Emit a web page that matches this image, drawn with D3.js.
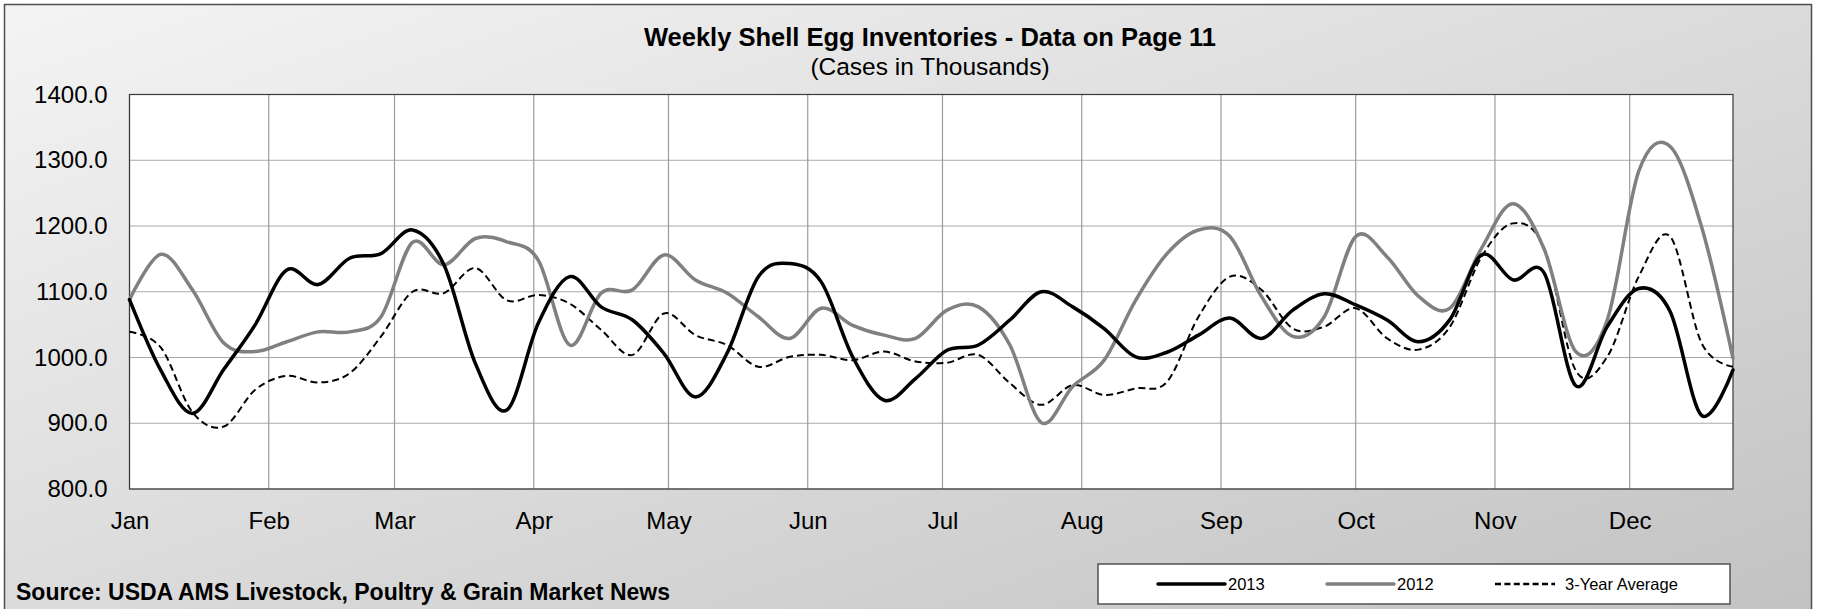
<!DOCTYPE html>
<html>
<head>
<meta charset="utf-8">
<script src="https://cdn.jsdelivr.net/npm/d3@7/dist/d3.min.js"></script>
<style>
  body { margin: 0; background: #fff; }
  svg { display: block; font-family: "Liberation Sans", Arial, sans-serif; }
</style>
</head>
<body>
<div id="chart"></div>
<script>
// ---- data (cases in thousands, one value per week) ----
const weekStart = new Date(2013, 0, 1);
const weeks = d3.range(52).map(i => d3.timeDay.offset(weekStart, i * 7));

const yTicks = [800, 900, 1000, 1100, 1200, 1300, 1400];

const seriesNames = ["2013", "2012", "3-Year Average"];

const inv2013 = [
	1088, 980, 915, 982, 1050, 1133, 1111, 1151, 1158, 1194, 1141, 991, 920,
	1052, 1123, 1077, 1057, 1006, 940, 1006, 1123, 1143, 1115, 1001, 935, 968,
	1011, 1019, 1057, 1100, 1077, 1044, 1001, 1008, 1034, 1060, 1029, 1072, 1097,
	1080, 1057, 1024, 1058, 1156, 1118, 1128, 957, 1047, 1105, 1070, 912, 981
];

const inv2012 = [
	1088, 1157, 1103, 1022, 1009, 1024, 1039, 1039, 1062, 1175, 1141, 1181, 1176,
	1148, 1019, 1098, 1103, 1156, 1118, 1098, 1062, 1029, 1075, 1049, 1034, 1029,
	1072, 1077, 1019, 901, 956, 996, 1087, 1158, 1194, 1184, 1093, 1032, 1062,
	1184, 1153, 1093, 1075, 1166, 1234, 1164, 1009, 1057, 1283, 1321, 1199, 999
];

const invAvg3 = [
	1039, 1015, 917, 895, 951, 972, 962, 976, 1032, 1100, 1098, 1136, 1087,
	1095, 1082, 1042, 1004, 1067, 1034, 1019, 986, 1001, 1004, 996, 1009, 994,
	992, 1004, 961, 928, 958, 943, 953, 963, 1062, 1123, 1103, 1044, 1047,
	1075, 1029, 1012, 1047, 1153, 1204, 1166, 980, 1001, 1123, 1184, 1022, 986
];

// ---- look of each series (kept apart from the values) ----
const seriesStyle = [
	{color: "#000000", width: 3.5, dash: null, legendDash: null, legendLen: 67},
	{color: "#808080", width: 3.5, dash: null, legendDash: null, legendLen: 67},
	{color: "#000000", width: 2, dash: "7,4", legendDash: "6,3.4", legendLen: 60}
];

const series = [inv2013, inv2012, invAvg3].map((vals, i) => ({
	name: seriesNames[i],
	style: seriesStyle[i],
	values: vals.map((v, j) => ({date: weeks[j], value: v}))
}));

// ---- frame ----
const W = 1822, H = 609;
const margin = {top: 94.5, right: 89, bottom: 120, left: 129.5};
const width = W - margin.left - margin.right,
	height = H - margin.top - margin.bottom;

const root = d3.select('#chart').append('svg')
	.attr('width', W)
	.attr('height', H);

// background gradient of the chart area
const grad = root.append('defs').append('linearGradient')
	.attr('id', 'bg')
	.attr('x1', 0).attr('y1', 0)
	.attr('x2', 1).attr('y2', 1);
grad.append('stop').attr('offset', '0%').attr('stop-color', '#f4f4f4');
grad.append('stop').attr('offset', '100%').attr('stop-color', '#c2c2c2');

root.append('rect')
	.attr('x', 4.5).attr('y', 4.5)
	.attr('width', 1807).attr('height', H + 10)
	.attr('fill', 'url(#bg)')
	.attr('stroke', '#4d4d4d')
	.attr('stroke-width', 1.5);

// titles
root.append('text')
	.attr('x', 930).attr('y', 46)
	.attr('text-anchor', 'middle')
	.style('font-size', '25.5px')
	.style('font-weight', 'bold')
	.text('Weekly Shell Egg Inventories - Data on Page 11');

root.append('text')
	.attr('x', 930).attr('y', 75)
	.attr('text-anchor', 'middle')
	.style('font-size', '24.5px')
	.text('(Cases in Thousands)');

const svg = root.append('g')
	.attr('transform', `translate(${margin.left}, ${margin.top})`);

// ---- scales ----
const xScale = d3.scaleTime()
	.domain(d3.extent(weeks))
	.range([0, width]);

const yScale = d3.scaleLinear()
	.domain([800, 1400])
	.range([height, 0]);

// plot background
svg.append('rect')
	.attr('width', width)
	.attr('height', height)
	.attr('fill', '#ffffff');

// gridlines
const monthTicks = xScale.ticks(d3.timeMonth.every(1));

svg.append('g')
	.selectAll('line')
	.data(yTicks)
	.join('line')
	.attr('x1', 0).attr('x2', width)
	.attr('y1', d => yScale(d)).attr('y2', d => yScale(d))
	.attr('stroke', '#aaaaaa')
	.attr('stroke-width', 1.2);

svg.append('g')
	.selectAll('line')
	.data(monthTicks)
	.join('line')
	.attr('x1', d => xScale(d)).attr('x2', d => xScale(d))
	.attr('y1', 0).attr('y2', height)
	.attr('stroke', '#9c9c9c')
	.attr('stroke-width', 1.2);

// plot border
svg.append('rect')
	.attr('width', width)
	.attr('height', height)
	.attr('fill', 'none')
	.attr('stroke', '#3a3a3a')
	.attr('stroke-width', 1.2);

// ---- axes ----
const xAxis = d3.axisBottom(xScale)
	.tickValues(monthTicks)
	.tickFormat(d3.timeFormat('%b'))
	.tickSize(0)
	.tickPadding(23);

const yAxis = d3.axisLeft(yScale)
	.tickValues(yTicks)
	.tickFormat(d3.format('.1f'))
	.tickSize(0)
	.tickPadding(22);

const xAxisGroup = svg.append('g')
	.attr('class', 'axis x-axis')
	.attr('transform', `translate(0, ${height})`)
	.call(xAxis);

const yAxisGroup = svg.append('g')
	.attr('class', 'axis y-axis')
	.call(yAxis);

svg.selectAll('.axis .domain').remove();
svg.selectAll('.axis text')
	.style('font-family', '"Liberation Sans", Arial, sans-serif')
	.style('font-size', '24px')
	.attr('fill', '#000');

// ---- lines (Excel style smoothing) ----
const line = d3.line()
	.x(d => xScale(d.date))
	.y(d => yScale(d.value))
	.curve(d3.curveCardinal.tension(0));

// draw 3-year average first, then 2012, then 2013 on top
svg.append('g')
	.selectAll('path')
	.data([series[2], series[1], series[0]])
	.join('path')
	.attr('d', d => line(d.values))
	.attr('fill', 'none')
	.attr('stroke', d => d.style.color)
	.attr('stroke-width', d => d.style.width)
	.attr('stroke-dasharray', d => d.style.dash)
	.attr('stroke-linejoin', 'round')
	.attr('stroke-linecap', d => d.style.dash ? 'butt' : 'round');

// ---- source note ----
root.append('text')
	.attr('x', 16).attr('y', 600)
	.style('font-size', '23px')
	.style('font-weight', 'bold')
	.text('Source: USDA AMS Livestock, Poultry & Grain Market News');

// ---- legend ----
const legend = root.append('g')
	.attr('transform', 'translate(1098, 564)');

legend.append('rect')
	.attr('width', 632)
	.attr('height', 40)
	.attr('fill', '#ffffff')
	.attr('stroke', '#5a5a5a')
	.attr('stroke-width', 1.6);

const legendX = [60, 229, 397];

const item = legend.selectAll('.item')
	.data(series)
	.join('g')
	.attr('class', 'item')
	.attr('transform', (d, i) => `translate(${legendX[i]}, 20)`);

item.append('line')
	.attr('x1', 0).attr('x2', d => d.style.legendLen)
	.attr('stroke', d => d.style.color)
	.attr('stroke-width', d => d.style.legendDash ? 2.6 : d.style.width)
	.attr('stroke-dasharray', d => d.style.legendDash)
	.attr('stroke-linecap', d => d.style.legendDash ? 'butt' : 'round');

item.append('text')
	.attr('x', 70)
	.attr('dy', '0.35em')
	.style('font-size', '16.5px')
	.text(d => d.name);
</script>
</body>
</html>
